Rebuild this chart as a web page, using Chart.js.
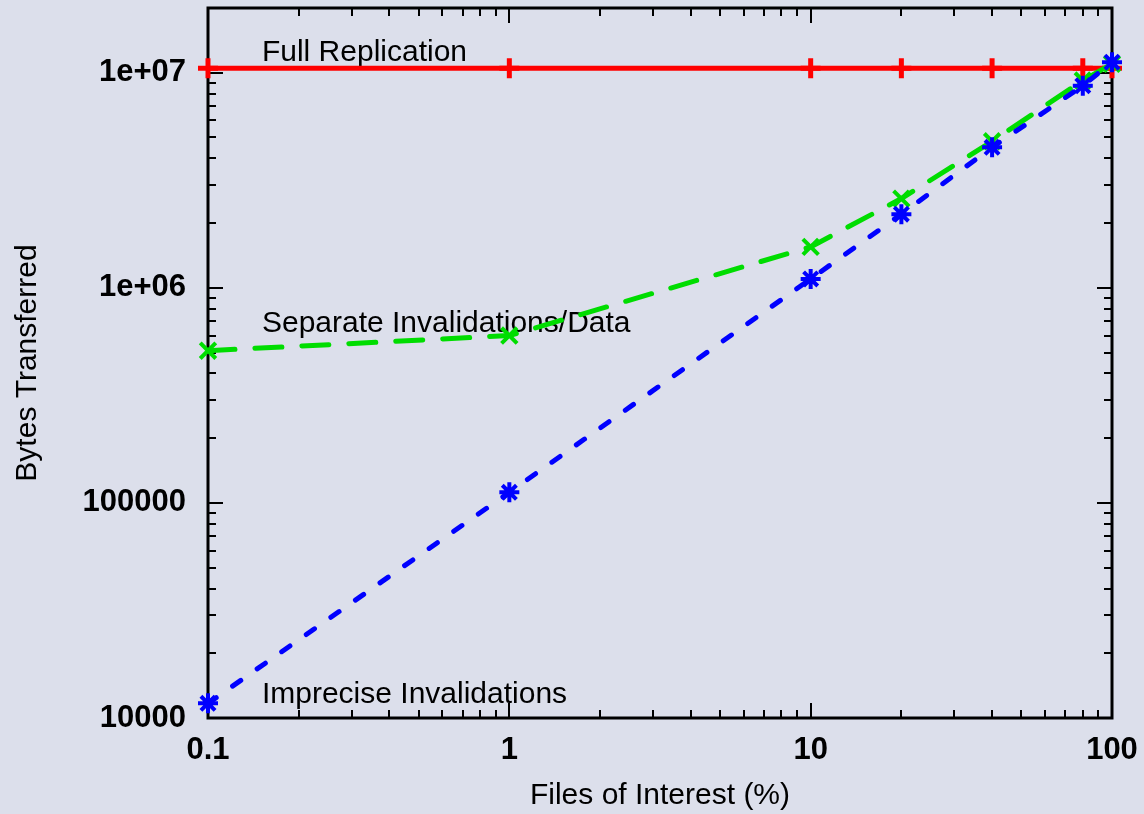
<!DOCTYPE html>
<html><head><meta charset="utf-8">
<script src="https://cdn.jsdelivr.net/npm/chart.js@4/dist/chart.umd.min.js"></script>
<style>html,body{margin:0;padding:0;background:#dcdfeb;}</style>
</head><body>
<canvas id="c" width="1144" height="814"></canvas>
<script>
const filesOfInterest = [0.1, 1, 10, 20, 40, 80, 100];
const fullReplication = [1.05e7, 1.05e7, 1.05e7, 1.05e7, 1.05e7, 1.05e7, 1.05e7];
const separateInvalidations = [5.1e5, 6.0e5, 1.55e6, 2.6e6, 4.8e6, 9.2e6, 1.1e7];
const impreciseInvalidations = [1.17e4, 1.12e5, 1.1e6, 2.2e6, 4.5e6, 8.7e6, 1.12e7];
const seriesNames = ['Full Replication', 'Separate Invalidations/Data', 'Imprecise Invalidations'];
const xTickValues = [0.1, 1, 10, 100];
const xTickLabels = ['0.1', '1', '10', '100'];
const yTickValues = [1e4, 1e5, 1e6, 1e7];
const yTickLabels = ['10000', '100000', '1e+06', '1e+07'];
const xTitle = 'Files of Interest (%)';
const yTitle = 'Bytes Transferred';

const FONT = "'Liberation Sans', Arial, Helvetica, sans-serif";
const BG = '#dcdfeb';

const bgPlugin = {
  id: 'bg',
  beforeDraw(chart) {
    const ctx = chart.ctx;
    ctx.save();
    ctx.fillStyle = BG;
    ctx.fillRect(0, 0, chart.width, chart.height);
    ctx.restore();
  }
};

function logTicks(min, max) {
  const out = [];
  const e0 = Math.floor(Math.log10(min) + 1e-9);
  const e1 = Math.ceil(Math.log10(max) - 1e-9);
  for (let e = e0; e <= e1; e++) {
    for (let m = 1; m <= 9; m++) {
      const v = m * Math.pow(10, e);
      if (v >= min * 0.999 && v <= max * 1.001) out.push({ v, major: m === 1 });
    }
  }
  return out;
}

const framePlugin = {
  id: 'frame',
  beforeDatasetsDraw(chart, args, opts) {
    const { ctx, chartArea: { left, right, top, bottom }, scales: { x, y } } = chart;
    ctx.save();
    ctx.fillStyle = '#000';
    ctx.font = '30px ' + FONT;
    ctx.textBaseline = 'alphabetic';
    ctx.textAlign = 'left';
    (opts.annotations || []).forEach(a => {
      ctx.fillText(a.text, x.getPixelForValue(a.x), y.getPixelForValue(a.y));
    });
    ctx.strokeStyle = '#000';
    ctx.lineWidth = 2;
    ctx.beginPath();
    logTicks(x.min, x.max).forEach(t => {
      const p = Math.round(x.getPixelForValue(t.v));
      const len = t.major ? 15 : 8;
      ctx.moveTo(p, bottom); ctx.lineTo(p, bottom - len);
      ctx.moveTo(p, top); ctx.lineTo(p, top + len);
    });
    logTicks(y.min, y.max).forEach(t => {
      const p = Math.round(y.getPixelForValue(t.v));
      const len = t.major ? 15 : 8;
      ctx.moveTo(left, p); ctx.lineTo(left + len, p);
      ctx.moveTo(right, p); ctx.lineTo(right - len, p);
    });
    ctx.stroke();
    ctx.lineWidth = 3;
    ctx.strokeRect(left, top, right - left, bottom - top);
    ctx.restore();
  }
};

const mk = (arr) => filesOfInterest.map((xv, i) => ({ x: xv, y: arr[i] }));

new Chart(document.getElementById('c'), {
  type: 'line',
  data: {
    datasets: [
      {
        label: seriesNames[0], data: mk(fullReplication),
        borderColor: '#ff0000', backgroundColor: '#ff0000', borderWidth: 5,
        pointStyle: 'cross', pointRadius: 10, pointBorderWidth: 5,
        pointBorderColor: '#ff0000', clip: false, order: 3
      },
      {
        label: seriesNames[1], data: mk(separateInvalidations),
        borderColor: '#00dd00', backgroundColor: '#00dd00', borderWidth: 5,
        borderDash: [27, 20], borderCapStyle: 'round',
        pointStyle: 'crossRot', pointRadius: 11, pointBorderWidth: 4,
        pointBorderColor: '#00dd00', clip: false, order: 2
      },
      {
        label: seriesNames[2], data: mk(impreciseInvalidations),
        borderColor: '#0000ff', backgroundColor: '#0000ff', borderWidth: 5,
        borderDash: [10, 20], borderCapStyle: 'round',
        pointStyle: 'star', pointRadius: 10, pointBorderWidth: 4,
        pointBorderColor: '#0000ff', clip: false, order: 1
      }
    ]
  },
  options: {
    responsive: false,
    animation: false,
    events: [],
    layout: { autoPadding: false, padding: { top: 8, right: 32, left: 0, bottom: 0 } },
    plugins: {
      legend: { display: false },
      tooltip: { enabled: false },
      frame: {
        annotations: [
          { text: seriesNames[0], x: 0.151, y: 1.137e7 },
          { text: seriesNames[1], x: 0.151, y: 6.22e5 },
          { text: seriesNames[2], x: 0.151, y: 1.17e4 }
        ]
      }
    },
    scales: {
      x: {
        type: 'logarithmic', position: 'bottom', min: 0.1, max: 100,
        afterBuildTicks: s => { s.ticks = xTickValues.map(v => ({ value: v })); },
        afterFit: s => { s.height = 96; s.paddingLeft = 0; s.paddingRight = 0; },
        grid: { display: false, drawTicks: false },
        border: { display: false },
        ticks: {
          autoSkip: false, maxRotation: 0, minRotation: 0, padding: 14, color: '#000',
          font: { family: FONT, size: 31, weight: 'bold' },
          callback: (v) => xTickLabels[xTickValues.indexOf(v)]
        },
        title: { display: true, text: xTitle, color: '#000', padding: 0,
          font: { family: FONT, size: 30 } }
      },
      y: {
        type: 'logarithmic', position: 'left', min: 1e4, max: 2e7,
        afterBuildTicks: s => { s.ticks = yTickValues.map(v => ({ value: v })); },
        afterFit: s => { s.width = 208; s.paddingTop = 0; s.paddingBottom = 0; },
        grid: { display: false, drawTicks: false },
        border: { display: false },
        ticks: {
          autoSkip: false, padding: 22, color: '#000',
          font: { family: FONT, size: 31, weight: 'bold' },
          callback: (v) => yTickLabels[yTickValues.indexOf(v)]
        },
        title: { display: true, text: yTitle, color: '#000', padding: { top: 10, bottom: 0 },
          font: { family: FONT, size: 30 } }
      }
    }
  },
  plugins: [bgPlugin, framePlugin]
});
</script>
</body></html>
